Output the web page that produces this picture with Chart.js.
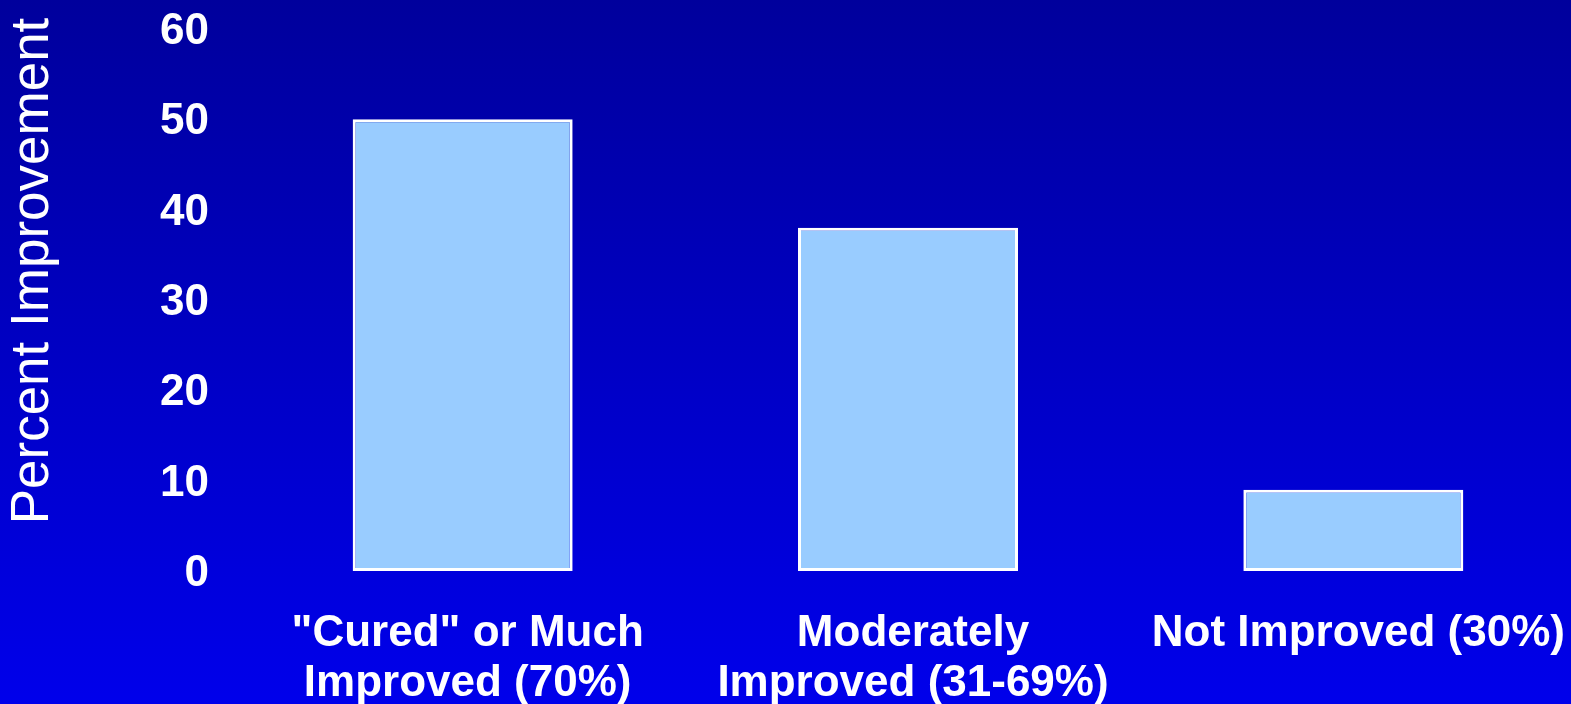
<!DOCTYPE html>
<html>
<head>
<meta charset="utf-8">
<title>Percent Improvement</title>
<script src="https://cdn.jsdelivr.net/npm/chart.js@4.4.1/dist/chart.umd.min.js"></script>
<style>
    html, body {
        margin: 0;
        padding: 0;
        overflow: hidden;
        width: 1571px;
        height: 704px;
    }
    body {
        background: linear-gradient(to bottom, #00009c 0%, #0000eb 100%);
    }
    canvas {
        display: block;
    }
</style>
</head>
<body>
<canvas id="improvementChart" width="1576" height="704"></canvas>
<script>
// Outcome groups and the share of patients in each
var categories = [
    ['"Cured" or Much', 'Improved (70%)'],
    ['Moderately', 'Improved (31-69%)'],
    'Not Improved (30%)'
];
var improvementPct = [50, 38, 9];
var yTicks = [0, 10, 20, 30, 40, 50, 60];
var yTitle = 'Percent Improvement';

var fontFamily = "'Liberation Sans', Arial, Helvetica, sans-serif";

// Rotated y axis title, drawn beside the tick labels
var axisTitlePlugin = {
    id: 'axisTitle',
    afterDraw: function (chart) {
        var ctx = chart.ctx;
        ctx.save();
        ctx.translate(33, 271);
        ctx.rotate(-Math.PI / 2);
        ctx.fillStyle = '#ffffff';
        ctx.font = '53px ' + fontFamily;
        ctx.textAlign = 'center';
        ctx.textBaseline = 'middle';
        ctx.fillText(yTitle, 0, 0);
        ctx.restore();
    }
};

var ctx = document.getElementById('improvementChart').getContext('2d');
var improvementChart = new Chart(ctx, {
    type: 'bar',
    data: {
        labels: categories,
        datasets: [{
            label: yTitle,
            data: improvementPct,
            backgroundColor: '#99ccff',
            borderColor: '#ffffff',
            borderWidth: 3,
            borderSkipped: false,
            barPercentage: 0.494,
            categoryPercentage: 1
        }]
    },
    options: {
        responsive: false,
        animation: false,
        layout: {
            padding: { top: 29, left: 0, right: 0, bottom: 0 }
        },
        plugins: {
            legend: { display: false },
            tooltip: { enabled: false }
        },
        scales: {
            x: {
                grid: { display: false, drawTicks: false },
                border: { display: false },
                // fixed axis band under the bars, no extra edge padding
                afterFit: function (scale) {
                    scale.height = 133;
                    scale.paddingLeft = 0;
                    scale.paddingRight = 0;
                },
                ticks: {
                    color: '#ffffff',
                    padding: 38,
                    labelOffset: 5,
                    maxRotation: 0,
                    autoSkip: false,
                    font: { family: fontFamily, size: 44, weight: 'bold', lineHeight: 50 / 44 }
                }
            },
            y: {
                min: 0,
                max: 60,
                grid: { display: false, drawTicks: false },
                border: { display: false },
                afterBuildTicks: function (scale) {
                    scale.ticks = yTicks.map(function (v) { return { value: v }; });
                },
                afterFit: function (scale) {
                    scale.width = 240;
                    scale.paddingTop = 0;
                    scale.paddingBottom = 0;
                },
                ticks: {
                    color: '#ffffff',
                    padding: 31,
                    labelOffset: 3,
                    font: { family: fontFamily, size: 44, weight: 'bold' }
                }
            }
        }
    },
    plugins: [axisTitlePlugin]
});
</script>
</body>
</html>
